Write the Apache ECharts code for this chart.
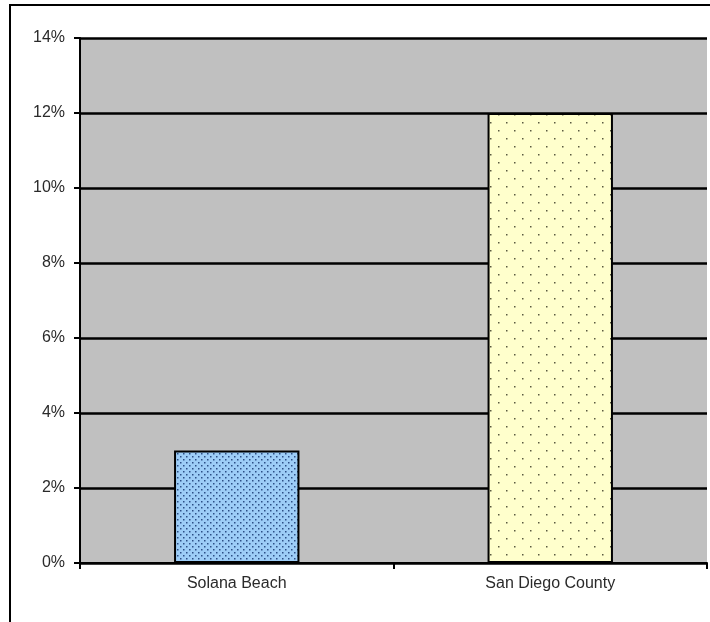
<!DOCTYPE html>
<html>
<head>
<meta charset="utf-8">
<script src="https://cdn.jsdelivr.net/npm/echarts@6/dist/echarts.min.js"></script>
<style>
  html, body { margin: 0; padding: 0; background: #fff; }
  #chart { width: 710px; height: 622px; }
</style>
</head>
<body>
<div id="chart"></div>
<script>
const categories = ["Solana Beach", "San Diego County"];
const values = [3, 12];
const yTicks = [0, 2, 4, 6, 8, 10, 12, 14];

// dotted fills like the old spreadsheet patterns
function dotPattern(bg, dot, w, h, pts) {
  const c = document.createElement("canvas");
  c.width = w;
  c.height = h;
  const ctx = c.getContext("2d");
  ctx.fillStyle = bg;
  ctx.fillRect(0, 0, w, h);
  ctx.fillStyle = dot;
  pts.forEach(p => ctx.fillRect(p[0], p[1], 1.5, 1.5));
  return c;
}

const bluePattern = dotPattern("#9dcdf7", "#2c4f86", 6, 6, [[0, 0], [3, 3]]);
const yellowPattern = dotPattern("#ffffcc", "#5a5a40", 16, 16, [[2, 2], [10, 10]]);

const chart = echarts.init(document.getElementById("chart"));

const labelFont = {
  color: "#2a2a2a",
  fontFamily: "Liberation Sans",
  fontSize: 16
};

chart.setOption({
  animation: false,
  graphic: [
    {
      type: "rect",
      shape: { x: 10, y: 5, width: 720, height: 640 },
      style: { fill: null, stroke: "#000", lineWidth: 2 },
      silent: true
    }
  ],
  grid: {
    left: 80,
    right: 3,
    top: 38,
    bottom: 59,
    show: true,
    backgroundColor: "#c0c0c0",
    borderWidth: 0
  },
  xAxis: {
    type: "category",
    data: categories,
    axisLine: { lineStyle: { color: "#000", width: 2 } },
    axisTick: { show: true, length: 6, lineStyle: { color: "#000", width: 2 } },
    axisLabel: Object.assign({ margin: 13 }, labelFont)
  },
  yAxis: {
    type: "value",
    min: 0,
    max: 14,
    interval: 2,
    axisLine: { show: true, lineStyle: { color: "#000", width: 2 } },
    axisTick: { show: true, length: 6, lineStyle: { color: "#000", width: 2 } },
    axisLabel: Object.assign({
      margin: 15,
      formatter: v => (yTicks.includes(v) ? v + "%" : "")
    }, labelFont),
    splitLine: { show: true, lineStyle: { color: "#000", width: 2.5 } }
  },
  series: [
    {
      type: "bar",
      barWidth: "40%",
      data: values.map((v, i) => ({
        value: v,
        itemStyle: {
          color: { image: i === 0 ? bluePattern : yellowPattern, repeat: "repeat" }
        }
      })),
      itemStyle: { borderColor: "#000", borderWidth: 2 }
    }
  ]
});
</script>
</body>
</html>
